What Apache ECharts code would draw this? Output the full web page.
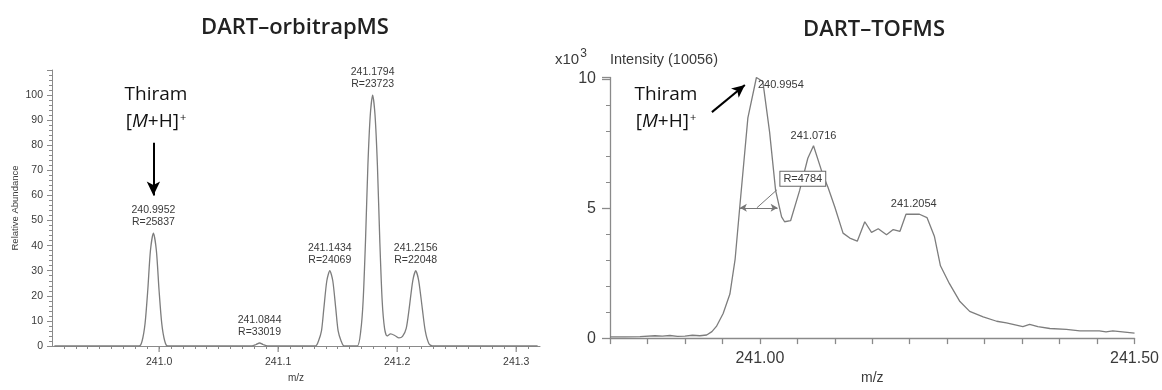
<!DOCTYPE html>
<html>
<head>
<meta charset="utf-8">
<script src="https://cdn.jsdelivr.net/npm/echarts@6/dist/echarts.min.js"></script>
<style>
  html, body { margin: 0; padding: 0; background: #fff; }
  #chart { width: 1162px; height: 390px; }
</style>
</head>
<body>
<div id="chart"></div>
<script>
// ---- DART–orbitrapMS profile (m/z, relative abundance %) ----
const orbitrapMz = [
  240.912, 240.9832, 240.9857, 240.9882, 240.9905, 240.9927, 240.9952, 240.9977, 240.9999, 241.0022, 241.0047, 241.0072,
  241.078, 241.0815, 241.0844, 241.0873, 241.091,
  241.1314, 241.1339, 241.1364, 241.1384, 241.1409, 241.1434, 241.1459, 241.1484, 241.1504, 241.1529, 241.1554,
  241.1664, 241.1694, 241.1714, 241.1734, 241.1754, 241.1774, 241.1794, 241.1814, 241.1834, 241.1854, 241.1874, 241.1894,
  241.1915, 241.1945, 241.1980, 241.2015, 241.2045,
  241.2076, 241.2101, 241.2131, 241.2156, 241.2181, 241.2211, 241.2236, 241.2266, 241.2296, 241.318
];
const orbitrapAbund = [
  0, 0, 2, 9, 22.5, 38, 45, 38, 22.5, 9, 2, 0,
  0, 0.6, 1.2, 0.6, 0,
  0, 2, 6, 15, 26, 30, 26, 15, 6, 2, 0,
  0, 6, 18, 42, 72, 92, 100, 92, 72, 42, 18, 7,
  4, 4.8, 4.2, 3.2, 3.8,
  7, 15, 26, 30, 26, 15, 6, 1, 0, 0
];
// labelled centroids
const orbitrapPeakMz = [240.9952, 241.0844, 241.1434, 241.1794, 241.2156];
const orbitrapPeakAbund = [45, 1.2, 30, 100, 30];
const orbitrapPeakR = [25837, 33019, 24069, 23723, 22048];
const orbitrapTickMz = [241.0, 241.1, 241.2, 241.3];

// ---- DART–TOFMS profile (m/z, intensity x10^3) ----
const tofMz = [
  240.800, 240.820, 240.840, 240.860, 240.870, 240.880, 240.890, 240.900, 240.910, 240.920, 240.929, 240.936,
  240.942, 240.951, 240.960, 240.967, 240.973, 240.984, 240.9954, 241.004, 241.013, 241.021, 241.029, 241.033,
  241.041, 241.053, 241.064, 241.0716, 241.084, 241.091, 241.100, 241.111, 241.120, 241.130, 241.140, 241.149,
  241.158, 241.169, 241.178, 241.187, 241.195, 241.2054, 241.213, 241.223, 241.233, 241.241, 241.253, 241.267,
  241.280, 241.298, 241.316, 241.329, 241.351, 241.360, 241.371, 241.387, 241.409, 241.427, 241.453, 241.462,
  241.471, 241.500
];
const tofIntensity = [
  0.05, 0.05, 0.06, 0.09, 0.08, 0.10, 0.07, 0.08, 0.11, 0.09, 0.12, 0.25,
  0.45, 0.95, 1.7, 3.05, 5.0, 8.5, 10.056, 9.9, 7.95, 5.7, 4.68, 4.49,
  4.53, 5.69, 6.94, 7.42, 6.31, 5.81, 5.06, 4.05, 3.86, 3.74, 4.49, 4.08,
  4.22, 3.99, 4.19, 4.12, 4.78, 4.78, 4.78, 4.65, 3.92, 2.79, 2.10, 1.41,
  1.03, 0.82, 0.65, 0.59, 0.44, 0.53, 0.44, 0.37, 0.34, 0.28, 0.28, 0.24,
  0.28, 0.19
];
const tofPeakMz = [240.9954, 241.0716, 241.2054];
const tofPeakIntensity = [10.056, 7.42, 4.78];
const tofResolution = 4784;

const lineGray = '#7d7d7d';
const axisGray = '#8a8a8a';
const textDark = '#3a3a3a';
const sans = 'Liberation Sans, Arial, sans-serif';

const orbitrapData = orbitrapMz.map((m, i) => [m, orbitrapAbund[i]]);
const tofData = tofMz.map((m, i) => [m, tofIntensity[i]]);

// half-height width of the base peak
const basePeakMz = tofPeakMz[0];
const basePeakI = tofPeakIntensity[0];
const fwhm = basePeakMz / tofResolution;
const halfLeft = 240.9733;
const halfRight = halfLeft + fwhm;

const isMultiple = (v, step) => Math.abs(v / step - Math.round(v / step)) < 1e-6;

const chart = echarts.init(document.getElementById('chart'), null, { renderer: 'canvas' });

const orbitrapLabels = orbitrapPeakMz.map((m, i) => ({
  coord: [m, orbitrapPeakAbund[i]],
  label: { formatter: m.toFixed(4) + '\nR=' + orbitrapPeakR[i] }
}));

const tofLabels = tofPeakMz.map((m, i) => {
  const item = { coord: [m, tofPeakIntensity[i]], label: { formatter: m.toFixed(4) } };
  if (i === 0) {
    item.label.position = 'right';
    item.label.distance = 1;
    item.label.offset = [0, 7];
  }
  return item;
});

const option = {
  animation: false,
  backgroundColor: '#ffffff',
  grid: [
    { left: 52, right: 622, top: 70, bottom: 44 },
    { left: 610, right: 27, top: 77.4, bottom: 46 }
  ],
  xAxis: [
    {
      gridIndex: 0, type: 'value', min: 240.91, max: 241.32, interval: 0.01,
      name: 'm/z', nameLocation: 'middle', nameGap: 26,
      nameTextStyle: { fontFamily: sans, fontSize: 10, color: textDark },
      axisLine: { lineStyle: { color: axisGray, width: 1 } },
      axisTick: { length: 3, lineStyle: { color: axisGray } },
      axisLabel: {
        margin: 11, fontFamily: sans, fontSize: 10.5, color: textDark,
        showMinLabel: false, showMaxLabel: false,
        formatter: v => (isMultiple(v, 0.1) ? v.toFixed(1) : '')
      },
      splitLine: { show: false }
    },
    {
      gridIndex: 1, type: 'value', min: 240.80, max: 241.50, interval: 0.05,
      name: 'm/z', nameLocation: 'middle', nameGap: 31,
      nameTextStyle: { fontFamily: sans, fontSize: 14, color: textDark },
      axisLine: { lineStyle: { color: axisGray, width: 1.3 } },
      axisTick: { length: 6, lineStyle: { color: axisGray, width: 1.3 } },
      axisLabel: {
        margin: 12, fontFamily: sans, fontSize: 16, color: textDark,
        formatter: v => (isMultiple(v, 0.5) ? v.toFixed(2) : '')
      },
      splitLine: { show: false }
    }
  ],
  yAxis: [
    {
      gridIndex: 0, type: 'value', min: 0, max: 110, interval: 10,
      name: 'Relative Abundance', nameLocation: 'middle', nameGap: 32,
      nameTextStyle: { fontFamily: sans, fontSize: 9.5, color: textDark },
      axisLine: { show: true, lineStyle: { color: axisGray, width: 1 } },
      axisTick: { show: true, length: 5, lineStyle: { color: axisGray } },
      minorTick: { show: true, splitNumber: 5, length: 3, lineStyle: { color: axisGray } },
      axisLabel: {
        margin: 9, fontFamily: sans, fontSize: 10.5, color: textDark,
        formatter: v => (v > 100 ? '' : String(v))
      },
      splitLine: { show: false }
    },
    {
      gridIndex: 1, type: 'value', min: 0, max: 10.06, interval: 5,
      axisLine: { show: true, lineStyle: { color: axisGray, width: 1.3 } },
      axisTick: { show: true, length: 8, lineStyle: { color: axisGray, width: 1.3 } },
      minorTick: { show: true, splitNumber: 5, length: 4, lineStyle: { color: axisGray } },
      axisLabel: {
        margin: 14, fontFamily: sans, fontSize: 16, color: textDark,
        formatter: v => (isMultiple(v, 5) ? String(Math.round(v)) : '')
      },
      splitLine: { show: false }
    }
  ],
  series: [
    {
      name: 'orbitrap', type: 'line', xAxisIndex: 0, yAxisIndex: 0,
      data: orbitrapData, showSymbol: false, smooth: 0.25,
      lineStyle: { color: lineGray, width: 1.3 },
      markPoint: {
        symbol: 'circle', symbolSize: 1, silent: true,
        itemStyle: { color: 'rgba(0,0,0,0)' },
        label: {
          show: true, position: 'top', distance: 4,
          fontFamily: sans, fontSize: 10.5, lineHeight: 12, color: textDark, align: 'center'
        },
        data: orbitrapLabels
      },
      markLine: {
        silent: true, symbol: ['none', 'arrow'], symbolSize: [10, 14],
        lineStyle: { color: '#000', width: 2, type: 'solid' },
        label: { show: false },
        data: [[{ coord: [orbitrapPeakMz[0], 81] }, { coord: [orbitrapPeakMz[0], 60] }]]
      }
    },
    {
      // longer ticks at the labelled m/z values
      name: 'majorTicks', type: 'custom', xAxisIndex: 0, yAxisIndex: 0, silent: true, clip: false,
      data: orbitrapTickMz.map(m => [m, 0]),
      renderItem: (params, api) => {
        const p = api.coord([api.value(0), 0]);
        return {
          type: 'line',
          shape: { x1: p[0], y1: p[1], x2: p[0], y2: p[1] + 6 },
          style: { stroke: axisGray, lineWidth: 1.2 }
        };
      }
    },
    {
      name: 'tof', type: 'line', xAxisIndex: 1, yAxisIndex: 1,
      data: tofData, showSymbol: false,
      lineStyle: { color: lineGray, width: 1.3 },
      markPoint: {
        symbol: 'circle', symbolSize: 1, silent: true,
        itemStyle: { color: 'rgba(0,0,0,0)' },
        label: {
          show: true, position: 'top', distance: 4,
          fontFamily: sans, fontSize: 11, color: textDark
        },
        data: tofLabels.concat([{
          coord: [241.0573, 6.15],
          label: {
            position: 'inside', formatter: 'R=' + tofResolution,
            fontSize: 11, color: textDark, backgroundColor: '#fff',
            borderColor: '#666', borderWidth: 1, padding: [2, 3, 1, 3]
          }
        }])
      },
      markLine: {
        silent: true, label: { show: false },
        lineStyle: { type: 'solid', color: '#777', width: 1 },
        data: [
          // width at half height
          [{ coord: [halfLeft, basePeakI / 2], symbol: 'arrow', symbolSize: [6, 7] },
           { coord: [halfRight, basePeakI / 2], symbol: 'arrow', symbolSize: [6, 7] }],
          [{ coord: [240.9960, basePeakI / 2], symbol: 'none' },
           { coord: [241.0227, 5.72], symbol: 'none' }],
          // pointer to the protonated molecule
          [{ coord: [240.936, 8.72], symbol: 'none', lineStyle: { color: '#000', width: 2 } },
           { coord: [240.980, 9.77], symbol: 'arrow', symbolSize: [9, 13], lineStyle: { color: '#000', width: 2 } }]
        ]
      }
    }
  ],
  graphic: [
    {
      type: 'text', x: 295, y: 28,
      style: { text: 'DART–orbitrapMS', font: '600 22px "Open Sans"', fill: '#222', align: 'center', verticalAlign: 'middle' }
    },
    {
      type: 'text', x: 874, y: 30,
      style: { text: 'DART–TOFMS', font: '600 22px "Open Sans"', fill: '#222', align: 'center', verticalAlign: 'middle' }
    },
    {
      type: 'text', x: 156, y: 95,
      style: { text: 'Thiram', font: '19px "Open Sans"', fill: '#111', align: 'center', verticalAlign: 'middle' }
    },
    {
      type: 'text', x: 156, y: 122,
      style: {
        text: '{n|[}{i|M}{n|+H]}{s|+}', align: 'center', verticalAlign: 'middle',
        rich: {
          n: { font: '19px "Open Sans"', fill: '#111' },
          i: { font: 'italic 19px "Open Sans"', fill: '#111' },
          s: { font: '11px "Open Sans"', fill: '#111', verticalAlign: 'top', padding: [0, 0, 8, 1] }
        }
      }
    },
    {
      type: 'text', x: 666, y: 95,
      style: { text: 'Thiram', font: '19px "Open Sans"', fill: '#111', align: 'center', verticalAlign: 'middle' }
    },
    {
      type: 'text', x: 666, y: 122,
      style: {
        text: '{n|[}{i|M}{n|+H]}{s|+}', align: 'center', verticalAlign: 'middle',
        rich: {
          n: { font: '19px "Open Sans"', fill: '#111' },
          i: { font: 'italic 19px "Open Sans"', fill: '#111' },
          s: { font: '11px "Open Sans"', fill: '#111', verticalAlign: 'top', padding: [0, 0, 8, 1] }
        }
      }
    },
    {
      type: 'text', x: 555, y: 60,
      style: {
        text: '{a|x10}{s|3}', align: 'left', verticalAlign: 'middle',
        rich: {
          a: { font: '15px ' + sans, fill: textDark },
          s: { font: '12px ' + sans, fill: textDark, padding: [0, 0, 12, 1] }
        }
      }
    },
    {
      type: 'text', x: 610, y: 60,
      style: { text: 'Intensity (10056)', font: '14.5px ' + sans, fill: textDark, align: 'left', verticalAlign: 'middle' }
    }
  ]
};

chart.setOption(option);
</script>
</body>
</html>
